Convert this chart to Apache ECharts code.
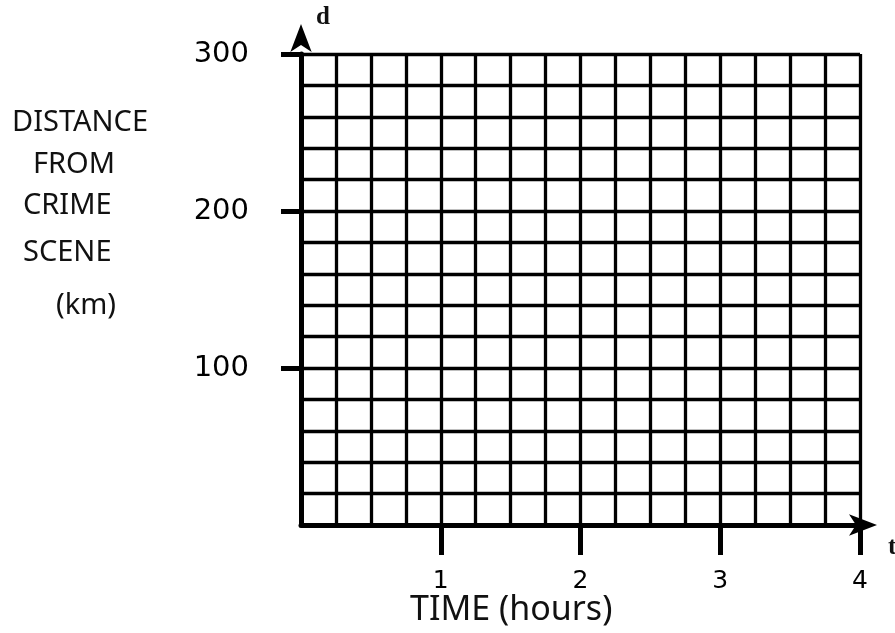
<!DOCTYPE html>
<html>
<head>
<meta charset="utf-8">
<script src="https://cdn.jsdelivr.net/npm/echarts@6/dist/echarts.min.js"></script>
<style>
html,body{margin:0;padding:0;background:#fff;}
#chart{width:895px;height:633px;}
</style>
</head>
<body>
<div id="chart"></div>
<script>
// Axis ranges and tick labels
const xMin = 0, xMax = 4, xMajor = 1, xMinorSplit = 4;
const yMin = 0, yMax = 300, yMajor = 100, yMinorSplit = 5;
const xTickValues = [1, 2, 3, 4];
const yTickValues = [100, 200, 300];
const yTitleLines = ['DISTANCE', 'FROM', 'CRIME', 'SCENE', '(km)'];
const xTitle = 'TIME (hours)';
const xVarName = 't';
const yVarName = 'd';
const seriesData = []; // blank graph paper: no plotted points

const chart = echarts.init(document.getElementById('chart'), null, {renderer: 'canvas'});

const gridStyle = {color: '#000', width: 3.3};
const axisStyle = {color: '#000', width: 5};
const handFont = 'Noto Sans';

const yTitleLayout = [
  {x: 12, y: 127}, {x: 33, y: 169}, {x: 23, y: 210}, {x: 23, y: 257}, {x: 56, y: 310}
];

const option = {
  backgroundColor: '#fff',
  animation: false,
  grid: {left: 301, right: 35, top: 54, bottom: 108, containLabel: false},
  xAxis: {
    type: 'value', min: xMin, max: xMax, interval: xMajor,
    axisLine: {show: true, lineStyle: axisStyle, symbol: ['none', 'arrow'], symbolSize: [16, 28], symbolOffset: [0, 17]},
    axisTick: {show: true, customValues: xTickValues, length: 30, lineStyle: {color: '#000', width: 5}},
    axisLabel: {show: true, customValues: xTickValues, margin: 44, fontSize: 25, fontFamily: 'DejaVu Sans', color: '#000'},
    splitLine: {show: true, lineStyle: gridStyle},
    minorTick: {show: false, splitNumber: xMinorSplit},
    minorSplitLine: {show: true, lineStyle: gridStyle}
  },
  yAxis: {
    type: 'value', min: yMin, max: yMax, interval: yMajor,
    axisLine: {show: true, lineStyle: axisStyle, symbol: ['none', 'arrow'], symbolSize: [16, 28], symbolOffset: [0, 30]},
    axisTick: {show: true, customValues: yTickValues, length: 20, lineStyle: {color: '#000', width: 5}},
    axisLabel: {show: true, customValues: yTickValues, margin: 52, fontSize: 29, fontFamily: 'DejaVu Sans', color: '#000'},
    splitLine: {show: true, lineStyle: gridStyle},
    minorTick: {show: false, splitNumber: yMinorSplit},
    minorSplitLine: {show: true, lineStyle: gridStyle}
  },
  series: [{type: 'line', data: seriesData, showSymbol: false}],
  graphic: [
    ...yTitleLines.map((t, i) => ({
      type: 'text', left: yTitleLayout[i].x, top: yTitleLayout[i].y - 19,
      style: {text: t, fontSize: 29, fontFamily: handFont, fill: '#111'}
    })),
    {type: 'text', left: 410, top: 593, style: {text: xTitle, fontSize: 34, fontFamily: handFont, fill: '#111'}},
    {type: 'text', left: 316, top: 5, style: {text: yVarName, fontSize: 25, fontWeight: 'bold', fontFamily: 'Liberation Serif', fill: '#111'}},
    {type: 'text', left: 888, top: 535, style: {text: xVarName, fontSize: 25, fontWeight: 'bold', fontFamily: 'Liberation Serif', fill: '#111'}}
  ]
};
chart.setOption(option);
</script>
</body>
</html>
